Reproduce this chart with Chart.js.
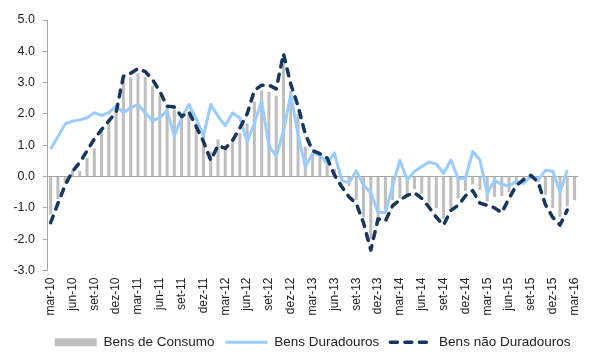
<!DOCTYPE html>
<html lang="pt">
<head>
<meta charset="UTF-8">
<title>Bens de Consumo</title>
<script src="https://cdn.jsdelivr.net/npm/chart.js"></script>
<style>
  body { margin: 0; background: #fff; }
  #wrap { width: 596px; height: 354px; }
</style>
</head>
<body>
<div id="wrap"><canvas id="chart" width="596" height="354"></canvas></div>
<script>
  // meses mar-10 .. mar-16
  const meses = ['jan', 'fev', 'mar', 'abr', 'mai', 'jun', 'jul', 'ago', 'set', 'out', 'nov', 'dez'];
  const inicioMes = 2, inicioAno = 10, nMeses = 73;
  const labels = [];
  for (let i = 0; i < nMeses; i++) {
    const m = inicioMes + i;
    labels.push(meses[m % 12] + '-' + (inicioAno + Math.floor(m / 12)));
  }

  const consumo = [
    -1.2, -0.72, -0.22, 0.2, 0.18, 0.6, 0.9, 1.45, 1.8, 2.1,
    3.1, 3.17, 3.3, 3.18, 2.9, 2.58, 2.25, 2.15, 1.92, 2.05,
    1.7, 1.3, 0.8, 1.18, 0.9, 1.1, 1.4, 1.7, 2.4, 2.75,
    2.7, 2.58, 3.6, 2.74, 2.0, 0.95, 0.75, 0.65, 0.55, 0.25,
    -0.1, -0.3, -0.75, -1.3, -2.0, -1.4, -1.05, -0.75, -0.7, -0.58,
    -0.4, -0.55, -0.92, -1.0, -1.35, -1.0, -0.7, -0.45, -0.25, -0.42,
    -0.8, -0.65, -0.62, -0.5, -0.25, -0.15, -0.08, -0.18, -0.58, -1.0,
    -1.28, -0.95, -0.76
  ];

  const duradouros = [
    0.88, 1.27, 1.68, 1.77, 1.81, 1.88, 2.04, 1.95, 2.04, 2.25,
    2.04, 2.2, 2.3, 2.04, 1.78, 1.88, 2.1, 1.3, 1.88, 2.3,
    1.85, 1.3, 2.3, 1.93, 1.62, 2.03, 1.87, 1.12, 1.7, 2.4,
    0.98, 0.65, 1.45, 2.63, 1.35, 0.3, 0.75, 0.68, 0.42, 0.75,
    -0.12, -0.2, 0.18, -0.28, -0.52, -1.15, -1.15, -0.3, 0.52, -0.1,
    0.16, 0.32, 0.46, 0.4, 0.1, 0.53, -0.06, -0.06, 0.8, 0.53,
    -0.55, -0.12, -0.25, -0.3, -0.15, -0.22, 0.02, -0.1, 0.2, 0.17,
    -0.5, 0.21, null
  ];

  const naoDuradouros = [
    -1.47, -0.86, -0.27, 0.16, 0.45, 0.82, 1.2, 1.5, 1.78, 2.05,
    3.2, 3.3, 3.45, 3.35, 3.1, 2.72, 2.25, 2.22, 1.92, 2.07,
    1.6, 1.12, 0.52, 0.99, 0.9, 1.15, 1.55, 2.0, 2.75, 2.92,
    2.92, 2.8, 3.92, 2.95, 2.25, 1.35, 0.83, 0.73, 0.59, 0.05,
    -0.32, -0.65, -0.86, -1.48, -2.35, -1.35, -1.42, -0.93, -0.75, -0.6,
    -0.52, -0.7, -0.98, -1.3, -1.55, -1.08, -0.92, -0.62, -0.45, -0.85,
    -0.92, -1.0, -1.15, -0.7, -0.28, -0.1, 0.04, -0.18, -0.9, -1.3,
    -1.55, -1.07, null
  ];

  const fonte = 'Liberation Sans, Arial, sans-serif';
  const cinzaEixo = '#a6a6a6';

  // legenda: linhas com o mesmo traço/espessura das séries
  function legendaItens(chart) {
    const itens = Chart.defaults.plugins.legend.labels.generateLabels(chart);
    itens.forEach((item) => {
      const ds = chart.data.datasets[item.datasetIndex];
      if (ds.type === 'line') {
        item.strokeStyle = ds.borderColor;
        item.lineWidth = ds.borderWidth;
        item.lineDash = ds.borderDash || [];
        item.lineCap = ds.borderCapStyle || 'butt';
      }
    });
    return itens;
  }

  // legenda centrada na área do gráfico e não na tela inteira
  const centraLegenda = {
    id: 'centraLegenda',
    afterLayout(chart) {
      const lg = chart.legend;
      const dx = (chart.chartArea.left + chart.chartArea.right) / 2 - (lg.left + lg.right) / 2;
      lg.left += dx;
      lg.right += dx;
    }
  };

  new Chart(document.getElementById('chart'), {
    type: 'bar',
    data: {
      labels: labels,
      datasets: [
        {
          label: 'Bens de Consumo',
          data: consumo,
          backgroundColor: '#bfbfbf',
          borderWidth: 0,
          barPercentage: 0.42,
          categoryPercentage: 1,
          pointStyle: 'rect',
          order: 3
        },
        {
          type: 'line',
          label: 'Bens Duradouros',
          data: duradouros,
          borderColor: '#99ccff',
          backgroundColor: '#99ccff',
          borderWidth: 3,
          tension: 0,
          pointRadius: 0,
          borderJoinStyle: 'round',
          pointStyle: 'line',
          order: 2
        },
        {
          type: 'line',
          label: 'Bens não Duradouros',
          data: naoDuradouros,
          borderColor: '#17365d',
          backgroundColor: '#17365d',
          borderWidth: 3.5,
          borderDash: [7, 7.5],
          borderCapStyle: 'round',
          borderJoinStyle: 'round',
          tension: 0,
          pointRadius: 0,
          pointStyle: 'line',
          order: 1
        }
      ]
    },
    plugins: [centraLegenda],
    options: {
      responsive: false,
      animation: false,
      devicePixelRatio: 1,
      layout: { padding: { top: 20, right: 8, bottom: -5, left: 0 } },
      plugins: {
        tooltip: { enabled: false },
        legend: {
          position: 'bottom',
          labels: {
            usePointStyle: true,
            pointStyleWidth: 42,
            boxHeight: 8,
            padding: 11,
            color: '#222',
            font: { family: fonte, size: 13.5 },
            generateLabels: legendaItens,
            sort: (a, b) => a.datasetIndex - b.datasetIndex
          }
        }
      },
      scales: {
        x: {
          grid: { display: false, drawTicks: false },
          border: { display: false },
          afterFit: (scale) => { scale.height = 54; },
          ticks: {
            autoSkip: false,
            maxRotation: 90,
            minRotation: 90,
            padding: 7,
            color: '#222',
            font: { family: fonte, size: 12 },
            callback: function (value, index) {
              return index % 3 === 0 ? this.getLabelForValue(value) : '';
            }
          }
        },
        y: {
          min: -3,
          max: 5,
          afterFit: (scale) => { scale.width = 47; },
          border: { display: true, color: cinzaEixo, width: 1 },
          grid: {
            drawOnChartArea: true,
            color: (ctx) => (ctx.tick && ctx.tick.value === 0 ? cinzaEixo : 'rgba(0,0,0,0)'),
            tickColor: cinzaEixo,
            tickLength: 4,
            lineWidth: 1
          },
          ticks: {
            stepSize: 1,
            padding: 8,
            color: '#222',
            font: { family: fonte, size: 12.5 },
            callback: (v) => v.toFixed(1)
          }
        }
      }
    }
  });
</script>
</body>
</html>
